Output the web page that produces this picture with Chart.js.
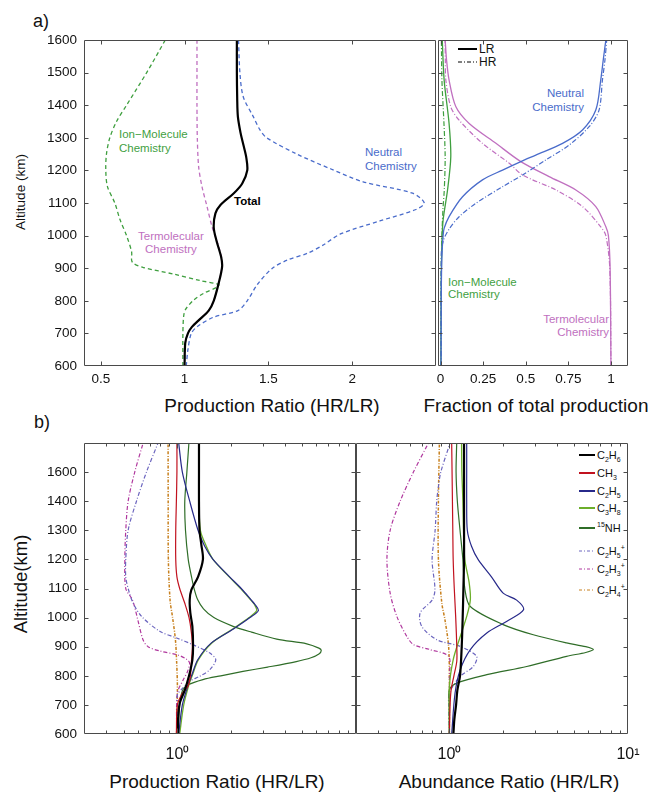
<!DOCTYPE html>
<html><head><meta charset="utf-8">
<script src="https://cdn.jsdelivr.net/npm/chart.js@4.4.1/dist/chart.umd.min.js"></script>
<style>
body{margin:0;background:#fff;width:655px;height:793px;position:relative;overflow:hidden;font-family:'Liberation Sans',Arial,sans-serif;color:#111;}
canvas{position:absolute;}
.t{position:absolute;white-space:nowrap;line-height:1;}
.c{transform:translate(-50%,-50%);}
.lg{position:absolute;display:flex;align-items:center;font-size:11px;line-height:1;white-space:nowrap;}
.lg svg{margin-right:2px;}
.lg sub,.lg sup{font-size:7px;line-height:0;}
</style></head><body>
<script>
// ---------------- Panel a (left): production ratio HR/LR ----------------
const aTotalAlt = [600,670,700,720,740,770,800,855,905,935,985,1025,1068,1094,1130,1160,1200,1240,1280,1315,1365,1420,1500,1600];
const aTotalVal = [1.0,1.004,1.02,1.044,1.084,1.144,1.174,1.204,1.224,1.218,1.19,1.174,1.184,1.214,1.294,1.344,1.374,1.368,1.35,1.334,1.318,1.314,1.312,1.312];
const aNeutralAlt = [600,650,700,720,750,770,800,850,900,925,946,972,1005,1045,1080,1100,1130,1165,1205,1250,1300,1324,1365,1426,1500,1600];
const aNeutralVal = [1.01,1.02,1.04,1.074,1.174,1.318,1.374,1.434,1.524,1.614,1.734,1.83,1.93,2.165,2.38,2.43,2.36,2.065,1.87,1.67,1.49,1.45,1.41,1.35,1.33,1.322];
const aIonAlt = [600,700,750,772,802,823,842,850,862,882,902,915,925,950,1000,1050,1100,1150,1200,1250,1300,1350,1400,1500,1600];
const aIonVal = [0.99,0.99,0.994,1.004,1.054,1.114,1.194,1.204,1.094,0.934,0.754,0.694,0.684,0.684,0.654,0.614,0.584,0.54,0.53,0.534,0.554,0.594,0.654,0.774,0.885];
const aTermAlt = [600,670,700,720,740,770,800,855,915,966,1027,1089,1150,1211,1300,1400,1500,1600];
const aTermVal = [1.0,1.004,1.02,1.044,1.084,1.144,1.174,1.204,1.224,1.204,1.164,1.134,1.104,1.084,1.076,1.074,1.074,1.074];

// ---------------- Panel a (right): fraction of total production ----------------
const fNeutralLRAlt = [600,800,900,960,1000,1022,1058,1119,1171,1201,1227,1247,1283,1324,1385,1477,1540,1600];
const fNeutralLRVal = [0.003,0.004,0.006,0.01,0.015,0.021,0.05,0.129,0.246,0.364,0.471,0.559,0.716,0.833,0.911,0.94,0.955,0.97];
const fNeutralHRAlt = [600,800,900,956,990,1022,1058,1099,1150,1186,1232,1278,1334,1385,1477,1540,1600];
const fNeutralHRVal = [0.003,0.003,0.004,0.006,0.02,0.053,0.109,0.207,0.364,0.481,0.618,0.755,0.872,0.93,0.95,0.965,0.975];
const fTermLRAlt = [600,900,1000,1027,1089,1140,1181,1227,1283,1344,1395,1477,1540,1600];
const fTermLRVal = [1.0,0.995,0.985,0.97,0.911,0.794,0.637,0.471,0.325,0.168,0.09,0.05,0.035,0.027];
const fTermHRAlt = [600,900,1000,1027,1089,1140,1186,1222,1283,1354,1395,1477,1540,1600];
const fTermHRVal = [1.0,0.993,0.97,0.94,0.833,0.677,0.481,0.403,0.246,0.109,0.06,0.031,0.028,0.027];
const fIonLRAlt = [600,800,900,980,1048,1140,1242,1344,1477,1600];
const fIonLRVal = [0.002,0.003,0.005,0.008,0.015,0.041,0.06,0.05,0.021,0.01];
const fIonHRAlt = [600,800,900,1000,1080,1142,1242,1344,1477,1600];
const fIonHRVal = [0.002,0.003,0.004,0.008,0.014,0.022,0.027,0.02,0.008,0.005];

// ---------------- Panel b (left): production ratio HR/LR (log) ----------------
const pC2H6Alt = [600,650,705,750,800,855,900,970,1015,1060,1095,1140,1200,1250,1300,1400,1500,1600];
const pC2H6Val = [1.009,1.009,1.03,1.099,1.162,1.213,1.224,1.213,1.182,1.172,1.197,1.305,1.39,1.362,1.33,1.321,1.321,1.321];
const pCH3Alt = [600,700,740,765,800,845,900,950,1000,1050,1100,1140,1200,1300,1400,1500,1600];
const pCH3Val = [0.987,1.0,1.066,1.147,1.182,1.197,1.213,1.197,1.162,1.099,1.03,0.994,0.979,0.979,0.987,0.994,0.994];
const pC2H5Alt = [600,700,769,800,855,913,960,1000,1024,1045,1060,1100,1140,1200,1245,1300,1400,1500,1600];
const pC2H5Val = [1.017,1.066,1.15,1.2,1.3,1.55,2.05,2.55,2.84,2.72,2.595,2.278,1.961,1.582,1.422,1.305,1.172,1.066,1.017];
const pC3H8Alt = [600,700,769,800,855,913,960,1000,1024,1045,1060,1100,1140,1200,1245,1300,1400,1500,1600];
const pC3H8Val = [1.03,1.085,1.16,1.21,1.31,1.56,2.03,2.52,2.78,2.7,2.58,2.26,1.95,1.582,1.452,1.345,1.321,1.321,1.321];
const pNHAlt = [600,700,750,769,787,800,815,830,849,862,875,887,895,910,926,950,970,1000,1030,1061,1100,1140,1200,1300,1400,1500,1600];
const pNHVal = [1.01,1.03,1.07,1.15,1.39,1.75,2.33,3.2,4.63,5.6,6.2,6.39,6.2,5.3,3.6,2.6,2.05,1.6,1.4,1.3,1.24,1.2,1.15,1.11,1.1,1.13,1.16];
const pC2H5pAlt = [600,700,735,752,781,798,821,855,878,907,930,953,1004,1050,1100,1140,1200,1300,1400,1500,1600];
const pC2H5pVal = [0.99,1.0,1.0,1.05,1.17,1.33,1.52,1.64,1.52,1.22,0.99,0.796,0.63,0.565,0.53,0.514,0.514,0.53,0.59,0.671,0.779];
const pC2H3pAlt = [600,741,787,815,844,858,872,885,900,924,993,1061,1100,1200,1300,1400,1500,1600];
const pC2H3pVal = [0.99,1.0,1.08,1.14,1.17,1.12,1.0,0.8,0.685,0.642,0.6,0.56,0.514,0.508,0.514,0.53,0.577,0.643];
const pC2H4pAlt = [600,763,850,924,1000,1060,1200,1400,1600];
const pC2H4pVal = [0.99,1.0,0.99,0.975,0.94,0.91,0.89,0.888,0.887];

// ---------------- Panel b (right): abundance ratio HR/LR (log) ----------------
const rC2H6Alt = [600,650,700,750,800,900,1000,1100,1200,1300,1400,1500,1600];
const rC2H6Val = [1.053,1.066,1.09,1.108,1.147,1.172,1.187,1.198,1.208,1.208,1.208,1.208,1.208];
const rCH3Alt = [600,700,750,800,850,900,1000,1100,1200,1300,1400,1500,1600];
const rCH3Val = [1.0,1.009,1.022,1.06,1.1,1.1,1.085,1.065,1.05,1.045,1.04,1.035,1.03];
const rC2H5Alt = [600,741,821,890,947,987,1027,1060,1084,1140,1199,1245,1300,1400,1500,1600];
const rC2H5Val = [1.03,1.076,1.15,1.31,1.62,2.09,2.6,2.38,2.0,1.72,1.45,1.33,1.26,1.25,1.25,1.25];
const rC3H8Alt = [600,763,855,935,1004,1061,1120,1199,1300,1400,1500,1600];
const rC3H8Val = [1.0,1.0,1.05,1.15,1.25,1.31,1.29,1.22,1.2,1.19,1.175,1.17];
const rNHAlt = [600,700,752,775,804,832,867,880,890,900,913,941,976,1038,1100,1200,1300,1400,1500,1600];
const rNHVal = [1.0,1.0,1.0,1.1,1.62,2.71,4.53,5.8,6.4,5.8,4.53,2.95,2.0,1.31,1.22,1.19,1.147,1.108,1.09,1.099];
const rC2H5pAlt = [600,700,741,798,832,867,901,924,970,1016,1060,1096,1199,1300,1400,1450,1500,1600];
const rC2H5pVal = [1.0,0.99,1.0,1.15,1.36,1.42,1.15,0.85,0.7,0.686,0.8,0.83,0.8,0.832,0.849,0.868,0.895,1.009];
const rC2H3pAlt = [600,800,867,890,907,935,1004,1084,1199,1300,1400,1500,1600];
const rC2H3pVal = [1.0,1.0,0.99,0.78,0.63,0.578,0.508,0.466,0.447,0.466,0.53,0.629,0.763];
const rC2H4pAlt = [600,800,901,990,1050,1199,1400,1600];
const rC2H4pVal = [1.0,1.0,0.99,0.946,0.907,0.868,0.868,0.879];

// ---------------- Ticks ----------------
const altTicks = [600,700,800,900,1000,1100,1200,1300,1400,1500,1600];
const altTickLabelsA = ['600','700','800','900','1000','1100','1200','1300','1400','1500','1600'];
const altTickLabelsB = ['600','700','800','900','1000','1100','1200','1300','1400','1600',''];
const aLeftXTicks = [0.5,1,1.5,2];
const aRightXTicks = [0,0.25,0.5,0.75,1];
const logTicks = [0.3,0.4,0.5,0.6,0.7,0.8,0.9,1,2,3,4,5,6,7,8,9,10];
</script>

<div class="t" style="left:33px;top:12px;font-size:18px;">a)</div>
<div class="t" style="left:34px;top:413px;font-size:18px;">b)</div>
<div class="t c" style="left:21px;top:192px;font-size:13.5px;transform:translate(-50%,-50%) rotate(-90deg);">Altitude (km)</div>
<div class="t c" style="left:21px;top:584px;font-size:18.5px;transform:translate(-50%,-50%) rotate(-90deg);">Altitude(km)</div>
<div class="t c" style="left:272px;top:405px;font-size:19px;">Production Ratio (HR/LR)</div>
<div class="t c" style="left:536px;top:405px;font-size:19px;">Fraction of total production</div>
<div class="t c" style="left:217px;top:781px;font-size:19px;">Production Ratio (HR/LR)</div>
<div class="t c" style="left:509px;top:781px;font-size:19px;">Abundance Ratio (HR/LR)</div>

<!-- panel a annotations -->
<div class="t" style="left:119px;top:127px;font-size:11.5px;color:#3f9f3f;line-height:14px;">Ion−Molecule<br>Chemistry</div>
<div class="t" style="left:234px;top:196px;font-size:11.5px;font-weight:bold;color:#000;">Total</div>
<div class="t" style="left:138px;top:230px;font-size:11.5px;color:#c070c0;line-height:12.5px;text-align:center;">Termolecular<br>Chemistry</div>
<div class="t" style="left:365px;top:145px;font-size:11.5px;color:#4a6ccb;line-height:14px;">Neutral<br>Chemistry</div>
<div class="t" style="left:530px;top:86px;font-size:11.5px;color:#4a6ccb;line-height:14px;text-align:right;width:54px;">Neutral<br>Chemistry</div>
<div class="t" style="left:448px;top:276px;font-size:11.5px;color:#3f9f3f;line-height:12px;">Ion−Molecule<br>Chemistry</div>
<div class="t" style="left:540px;top:313px;font-size:11.5px;color:#c070c0;line-height:13px;text-align:right;width:69px;">Termolecular<br>Chemistry</div>

<div class="lg" style="left:458px;top:43px;font-size:12px;"><svg width="19" height="12"><line x1="0" y1="6" x2="19" y2="6" stroke="#000" stroke-width="2"/></svg>LR</div>
<div class="lg" style="left:458px;top:56px;font-size:12px;"><svg width="19" height="12"><line x1="0" y1="6" x2="19" y2="6" stroke="#000" stroke-width="1" stroke-dasharray="4,2,1,2"/></svg>HR</div>

<!-- panel b legend -->
<div id="legB"></div>

<script>
const pts = (alt, val) => alt.map((a, i) => ({x: val[i], y: a}));

function ds(alt, val, color, width, dash) {
  return {data: pts(alt, val), borderColor: color, borderWidth: width, borderDash: dash || [],
          pointRadius: 0, tension: 0.3, fill: false};
}

const frameTicks = {
  id: 'frameTicks',
  afterDatasetsDraw(chart) {
    const {ctx, chartArea: a, scales} = chart;
    const xs = scales.x, ys = scales.y;
    ctx.save();
    ctx.strokeStyle = '#4a4a4a';
    ctx.lineWidth = 1;
    const L = Math.round(a.left) + 0.5, R = Math.round(a.right) - 0.5;
    const T = Math.round(a.top) + 0.5, B = Math.round(a.bottom) - 0.5;
    ctx.beginPath();
    ctx.rect(L, T, R - L, B - T);
    const isLog = xs.type === 'logarithmic';
    xs.ticks.forEach(t => {
      const p = Math.round(xs.getPixelForValue(t.value)) + 0.5;
      if (p < L + 1 || p > R - 1) return;
      let len = 4;
      if (isLog) { const l = Math.log10(t.value); len = Math.abs(l - Math.round(l)) < 1e-6 ? 5 : 3; }
      ctx.moveTo(p, B); ctx.lineTo(p, B - len);
      ctx.moveTo(p, T); ctx.lineTo(p, T + len);
    });
    ys.ticks.forEach(t => {
      const p = Math.round(ys.getPixelForValue(t.value)) + 0.5;
      if (p < T + 1 || p > B - 1) return;
      ctx.moveTo(L, p); ctx.lineTo(L + 4, p);
      ctx.moveTo(R, p); ctx.lineTo(R - 4, p);
    });
    ctx.stroke();
    ctx.restore();
  }
};

function zeroPad(s) { s.paddingLeft = 0; s.paddingRight = 0; s.paddingTop = 0; s.paddingBottom = 0; }

function panel(plot, xcfg, ycfg, datasets) {
  const padL = ycfg.labels ? 60 : 4, padR = 22, padT = 6, padB = 45;
  const W = plot.r - plot.l + padL + padR, H = plot.b - plot.t + padT + padB;
  const cv = document.createElement('canvas');
  cv.width = W; cv.height = H;
  cv.style.left = (plot.l - padL) + 'px';
  cv.style.top = (plot.t - padT) + 'px';
  cv.style.width = W + 'px'; cv.style.height = H + 'px';
  document.body.appendChild(cv);
  const tickFont = {family: "'Liberation Sans', Arial, sans-serif", size: 13.5};
  new Chart(cv, {
    type: 'line',
    data: {datasets},
    plugins: [frameTicks],
    options: {
      responsive: false, animation: false, devicePixelRatio: 1, indexAxis: 'y',
      layout: {autoPadding: false, padding: {left: 0, right: padR, top: padT, bottom: 0}},
      plugins: {legend: {display: false}, tooltip: {enabled: false}},
      scales: {
        x: {
          type: xcfg.type, min: xcfg.min, max: xcfg.max, position: 'bottom',
          grid: {display: false, drawTicks: false}, border: {display: false},
          afterBuildTicks: s => { s.ticks = xcfg.ticks.map(v => ({value: v})); },
          afterFit: s => { s.height = padB; zeroPad(s); },
          ticks: {display: true, autoSkip: false, maxRotation: 0, padding: xcfg.pad, color: '#111',
                  font: xcfg.font || tickFont, callback: xcfg.cb}
        },
        y: {
          type: 'linear', min: 600, max: 1600, position: 'left',
          grid: {display: false, drawTicks: false}, border: {display: false},
          afterBuildTicks: s => { s.ticks = altTicks.map(v => ({value: v})); },
          afterFit: s => { s.width = padL; zeroPad(s); },
          ticks: {display: !!ycfg.labels, autoSkip: false, padding: 7, color: '#111', font: tickFont,
                  callback: (v) => { const i = altTicks.indexOf(v); return ycfg.labels && i >= 0 ? ycfg.labels[i] : ''; }}
        }
      }
    }
  });
}

const blue = '#4a6ccb', green = '#3f9f3f', pink = '#c070c0';
const dashA = [4, 3], dashHR = [5, 2, 1, 2];

panel({l: 84, t: 40, r: 436, b: 366},
  {type: 'linear', min: 0.4, max: 2.5, ticks: aLeftXTicks, pad: 5, cb: v => String(v)},
  {labels: altTickLabelsA},
  [ds(aTotalAlt, aTotalVal, '#000', 2.2),
   ds(aTermAlt, aTermVal, pink, 1.3, dashA),
   ds(aNeutralAlt, aNeutralVal, blue, 1.3, dashA),
   ds(aIonAlt, aIonVal, green, 1.3, dashA)]);

panel({l: 438, t: 40, r: 628, b: 366},
  {type: 'linear', min: -0.015, max: 1.1, ticks: aRightXTicks, pad: 5, cb: v => String(v)},
  {labels: null},
  [ds(fNeutralLRAlt, fNeutralLRVal, blue, 1.3),
   ds(fNeutralHRAlt, fNeutralHRVal, blue, 1.2, dashHR),
   ds(fTermLRAlt, fTermLRVal, pink, 1.3),
   ds(fTermHRAlt, fTermHRVal, pink, 1.2, dashHR),
   ds(fIonLRAlt, fIonLRVal, green, 1.3),
   ds(fIonHRAlt, fIonHRVal, green, 1.2, dashHR)]);

const cC2H6 = '#000', cCH3 = '#c1121f', cC2H5 = '#27298a', cC3H8 = '#6cae2b', cNH = '#2f6d28',
      cC2H5p = '#6c66bf', cC2H3p = '#b0389e', cC2H4p = '#c8801e';
const dd = [4, 2, 1, 2], ddo = [3, 1.5, 1, 1.5];
const logFont = {family: "'Liberation Sans', Arial, sans-serif", size: 16};
const logLabel = (showTen) => v => (Math.abs(v - 1) < 1e-9 ? '10\u2070' : (showTen && Math.abs(v - 10) < 1e-9 ? '10\u00B9' : ''));

panel({l: 84, t: 443, r: 356, b: 734},
  {type: 'logarithmic', min: 0.3, max: 10, ticks: logTicks, pad: 11, font: logFont, cb: logLabel(false)},
  {labels: altTickLabelsB},
  [ds(pC2H6Alt, pC2H6Val, cC2H6, 2.2),
   ds(pCH3Alt, pCH3Val, cCH3, 1.2),
   ds(pC2H5Alt, pC2H5Val, cC2H5, 1.2),
   ds(pC3H8Alt, pC3H8Val, cC3H8, 1.3),
   ds(pNHAlt, pNHVal, cNH, 1.2),
   ds(pC2H5pAlt, pC2H5pVal, cC2H5p, 1.2, dd),
   ds(pC2H3pAlt, pC2H3pVal, cC2H3p, 1.2, dd),
   ds(pC2H4pAlt, pC2H4pVal, cC2H4p, 1.5, ddo)]);

panel({l: 356, t: 443, r: 628, b: 734},
  {type: 'logarithmic', min: 0.3, max: 10, ticks: logTicks, pad: 11, font: logFont, cb: logLabel(true)},
  {labels: null},
  [ds(rC2H6Alt, rC2H6Val, cC2H6, 2.2),
   ds(rCH3Alt, rCH3Val, cCH3, 1.2),
   ds(rC2H5Alt, rC2H5Val, cC2H5, 1.2),
   ds(rC3H8Alt, rC3H8Val, cC3H8, 1.3),
   ds(rNHAlt, rNHVal, cNH, 1.2),
   ds(rC2H5pAlt, rC2H5pVal, cC2H5p, 1.2, dd),
   ds(rC2H3pAlt, rC2H3pVal, cC2H3p, 1.2, dd),
   ds(rC2H4pAlt, rC2H4pVal, cC2H4p, 1.5, ddo)]);

// legend for panel b
const legItems = [
  ['C<sub>2</sub>H<sub>6</sub>', cC2H6, 2, '', 455],
  ['CH<sub>3</sub>', cCH3, 2, '', 473],
  ['C<sub>2</sub>H<sub>5</sub>', cC2H5, 2, '', 491],
  ['C<sub>3</sub>H<sub>8</sub>', cC3H8, 2, '', 508],
  ['<sup>15</sup>NH', cNH, 2, '', 528],
  ['C<sub>2</sub>H<sub>5</sub><sup>+</sup>', cC2H5p, 1, '3,2,1,2', 551],
  ['C<sub>2</sub>H<sub>3</sub><sup>+</sup>', cC2H3p, 1, '3,2,1,2', 569],
  ['C<sub>2</sub>H<sub>4</sub><sup>+</sup>', cC2H4p, 1, '3,2,1,2', 590]
];
const leg = document.getElementById('legB');
legItems.forEach(([txt, col, w, dash, yc]) => {
  const d = document.createElement('div');
  d.className = 'lg';
  d.style.left = '579px'; d.style.top = (yc - 7) + 'px';
  d.innerHTML = '<svg width="16" height="14"><line x1="0" y1="7" x2="16" y2="7" stroke="' + col +
    '" stroke-width="' + w + '"' + (dash ? ' stroke-dasharray="' + dash + '"' : '') + '/></svg><span>' + txt + '</span>';
  leg.appendChild(d);
});
</script>
</body></html>
